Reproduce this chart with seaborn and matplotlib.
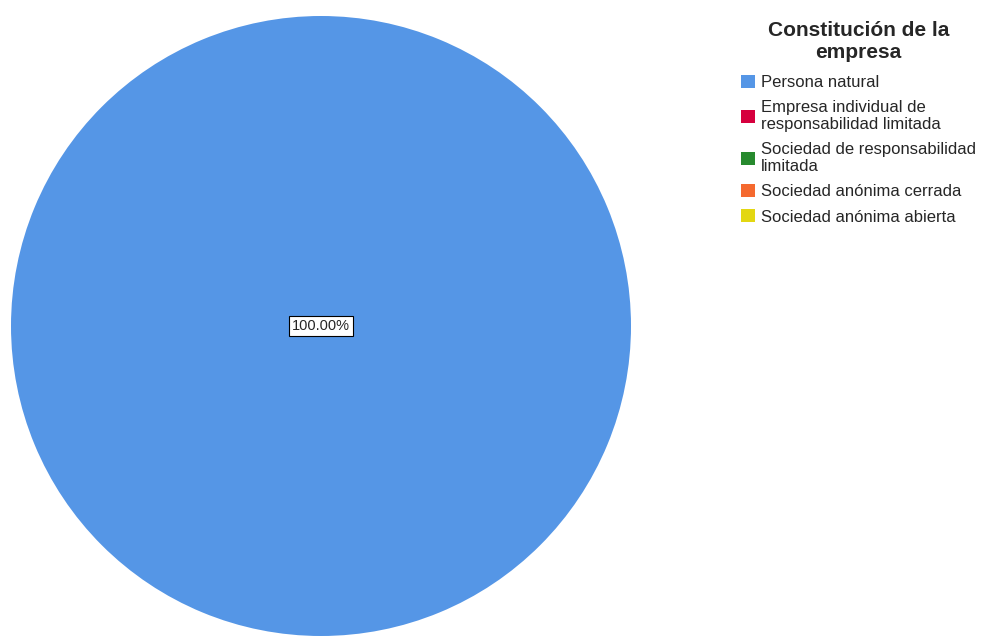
import matplotlib
matplotlib.use("Agg")
import matplotlib.pyplot as plt
from matplotlib.patches import Patch
import seaborn as sns

categories = [
    "Persona natural",
    "Empresa individual de\nresponsabilidad limitada",
    "Sociedad de responsabilidad\nlimitada",
    "Sociedad anónima cerrada",
    "Sociedad anónima abierta",
]
percentages = [100.0, 0.0, 0.0, 0.0, 0.0]
colors = ["#5596E6", "#D6003E", "#278A2E", "#F5692F", "#E3D712"]

sns.set_style("white")
plt.rcParams["font.family"] = ["Liberation Sans", "DejaVu Sans"]
palette = sns.color_palette(colors)

W, H = 988, 639
fig = plt.figure(figsize=(W / 100, H / 100), dpi=100)
cx, cy, r = 321, 326, 310
ax = fig.add_axes([(cx - r) / W, (H - cy - r) / H, 2 * r / W, 2 * r / H])

ax.pie(percentages, colors=palette, startangle=90, counterclock=False,
       radius=1.0, wedgeprops=dict(linewidth=0))
ax.set_xlim(-1, 1)
ax.set_ylim(-1, 1)
ax.set_aspect("equal")
ax.axis("off")

ax.text(0, 0, f"{percentages[0]:.2f}%", ha="center", va="center", fontsize=10.5,
        bbox=dict(boxstyle="square,pad=0.2", facecolor="white",
                  edgecolor="black", linewidth=0.8))

handles = [Patch(facecolor=c, edgecolor="none") for c in palette]
leg = fig.legend(handles, categories, loc="upper left",
                 bbox_to_anchor=(741 / W, 1 - 21 / H),
                 frameon=False, fontsize=12,
                 title="Constitución de la\nempresa",
                 title_fontproperties=dict(weight="bold", size=15),
                 handlelength=0.84, handleheight=0.84, handletextpad=0.36,
                 labelspacing=0.6, borderaxespad=0, borderpad=0)
leg._legend_box.align = "center"
leg._legend_box.sep = 9
for t in leg.get_texts():
    t.set_linespacing(1.15)
title = leg.get_title()
title.set_linespacing(1.23)
title.set_multialignment("center")

fig.savefig("out.png", dpi=100)
